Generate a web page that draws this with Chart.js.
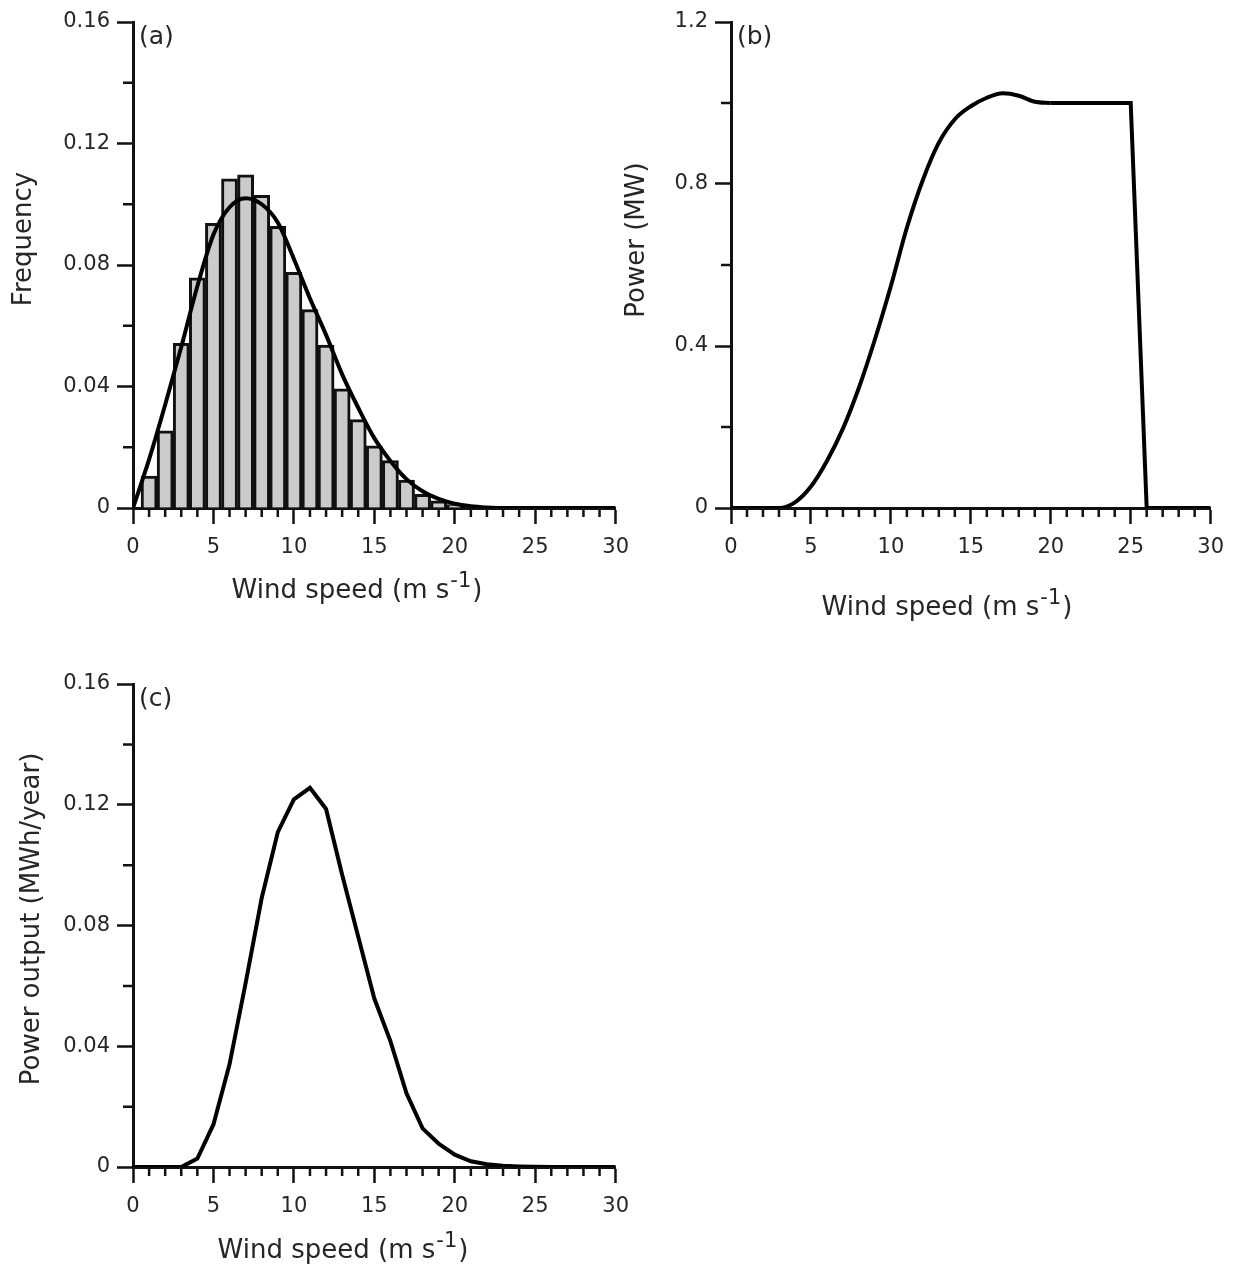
<!DOCTYPE html>
<html lang="en">
<head>
  <meta charset="UTF-8">
  <title>Wind speed, power curve and power output</title>
  <script src="https://cdn.jsdelivr.net/npm/chart.js"></script>
  <style>
    body { margin: 0; background: #fff; }
    .panel { position: absolute; }
  </style>
</head>
<body>
  <div class="panel" style="left:0;top:0"><canvas id="chartA" width="640" height="640"></canvas></div>
  <div class="panel" style="left:600px;top:0"><canvas id="chartB" width="635" height="640"></canvas></div>
  <div class="panel" style="left:0;top:660px"><canvas id="chartC" width="640" height="610"></canvas></div>

  <script>
    // x positions shared by all panels (m/s)
    const windSpeed = [0,1,2,3,4,5,6,7,8,9,10,11,12,13,14,15,16,17,18,19,20,21,22,23,24,25,26,27,28,29,30];
    const xTickLabels = ['0','5','10','15','20','25','30'];

    // (a) histogram of observed wind speed + fitted distribution
    const binCenters = [1,2,3,4,5,6,7,8,9,10,11,12,13,14,15,16,17,18,19,20,21,22];
    const binFreq = [0.0105,0.0254,0.0542,0.0758,0.0937,0.1084,0.1097,0.1029,0.0927,0.0776,0.0653,0.0536,
                     0.0392,0.0291,0.0205,0.0156,0.0092,0.0045,0.0024,0.0011,0.0005,0.0002];
    const fittedFreq = [0,0.016,0.034,0.053,0.073,0.090,0.099,0.102,0.100,0.094,0.082,0.069,0.057,0.044,0.033,
                        0.023,0.0155,0.0095,0.0055,0.003,0.0014,0.0006,0.0002,0,0,0,0,0,0,0,0];
    const yTicksA = ['0','0.04','0.08','0.12','0.16'];

    // (b) turbine power curve
    const powerMW = [0,0,0,0,0.014,0.053,0.116,0.196,0.297,0.416,0.548,0.692,0.81,0.902,0.96,0.992,1.013,1.024,
                     1.018,1.003,1.0,1.0,1.0,1.0,1.0,1.0,0,0,0,0,0];
    const yTicksB = ['0','0.4','0.8','1.2'];

    // (c) power output
    const powerOut = [0,0,0,0,0.0028,0.0141,0.034,0.0609,0.0891,0.1109,0.1218,0.1256,0.1186,0.0968,0.0763,
                      0.0558,0.0417,0.0244,0.0128,0.0077,0.0041,0.0019,0.0009,0.0004,0.0002,0.0001,0,0,0,0,0];
    const yTicksC = ['0','0.04','0.08','0.12','0.16'];

    const INK = '#111';
    const TEXT = '#262626';
    const FONT = "'DejaVu Sans', sans-serif";
    Chart.defaults.font.family = FONT;
    Chart.defaults.color = TEXT;

    // minor ticks, panel letter and axis titles
    const decor = {
      id: 'decor',
      afterDraw(chart, args, o) {
        const ctx = chart.ctx, area = chart.chartArea;
        const xs = chart.scales.x, ys = chart.scales.y;
        ctx.save();
        ctx.strokeStyle = INK;
        ctx.lineWidth = 2.5;
        ctx.beginPath();
        o.xMinor.forEach(v => {
          const px = xs.getPixelForValue(v);
          ctx.moveTo(px, area.bottom); ctx.lineTo(px, area.bottom + 9);
        });
        o.yMinor.forEach(v => {
          const py = ys.getPixelForValue(v);
          ctx.moveTo(area.left, py); ctx.lineTo(area.left - 10, py);
        });
        ctx.stroke();

        ctx.fillStyle = TEXT;
        // panel letter
        ctx.font = '25px ' + FONT;
        ctx.textAlign = 'left';
        ctx.textBaseline = 'middle';
        ctx.fillText(o.letter, area.left + 6, area.top + 15);

        // x title with superscript
        const main = 'Wind speed (m s', sup = '-1', end = ')';
        ctx.textBaseline = 'alphabetic';
        ctx.font = '26px ' + FONT;
        const w1 = ctx.measureText(main).width, w3 = ctx.measureText(end).width;
        ctx.font = '21px ' + FONT;
        const w2 = ctx.measureText(sup).width;
        let x0 = o.xTitle[0] - (w1 + w2 + w3) / 2;
        const base = o.xTitle[1];
        ctx.font = '26px ' + FONT;
        ctx.fillText(main, x0, base);
        ctx.font = '21px ' + FONT;
        ctx.fillText(sup, x0 + w1 + 1, base - 11);
        ctx.font = '26px ' + FONT;
        ctx.fillText(end, x0 + w1 + w2 + 2, base);

        // y title
        ctx.translate(o.yTitle[1], o.yTitle[2]);
        ctx.rotate(-Math.PI / 2);
        ctx.textAlign = 'center';
        ctx.textBaseline = 'middle';
        ctx.fillText(o.yTitle[0], 0, 0);
        ctx.restore();
      }
    };

    const xMinor = windSpeed.filter(v => v % 5 !== 0);

    function axes(yLabels, yWidth, xHeight) {
      const yVals = yLabels.map(Number);
      return {
        x: {
          type: 'linear', min: 0, max: 30, offset: false,
          afterFit: s => { s.height = xHeight; },
          afterBuildTicks: s => { s.ticks = xTickLabels.map(t => ({ value: Number(t) })); },
          ticks: { font: { size: 21 }, padding: 11, maxRotation: 0, autoSkip: false,
                   callback: v => xTickLabels.find(t => Number(t) === v) },
          grid: { offset: false, drawOnChartArea: false, drawTicks: true, tickLength: 16, tickWidth: 2.5, tickColor: INK },
          border: { display: true, color: INK, width: 3 }
        },
        y: {
          type: 'linear', min: 0, max: yVals[yVals.length - 1],
          afterFit: s => { s.width = yWidth; },
          afterBuildTicks: s => { s.ticks = yVals.map(v => ({ value: v })); },
          ticks: { font: { size: 21 }, padding: 7, autoSkip: false,
                   callback: v => yLabels[yVals.indexOf(v)] },
          grid: { offset: false, drawOnChartArea: false, drawTicks: true, tickLength: 16, tickWidth: 2.5, tickColor: INK },
          border: { display: true, color: INK, width: 3 }
        }
      };
    }

    const baseOpts = {
      responsive: false,
      devicePixelRatio: 1,
      animation: false,
      events: [],
      plugins: { legend: { display: false }, tooltip: { enabled: false } }
    };

    const pts = (xs, ys) => xs.map((x, i) => ({ x: x, y: ys[i] }));

    // (a)
    new Chart(document.getElementById('chartA'), {
      type: 'bar',
      data: {
        datasets: [
          { type: 'line', data: pts(windSpeed, fittedFreq), borderColor: '#000', borderWidth: 4,
            pointRadius: 0, cubicInterpolationMode: 'monotone', order: 1 },
          { type: 'bar', data: pts(binCenters, binFreq), backgroundColor: '#cbcbcb', borderColor: INK,
            borderWidth: 3, barPercentage: 1, categoryPercentage: 1, order: 2 }
        ]
      },
      options: Object.assign({}, baseOpts, {
        layout: { padding: { top: 22, right: 23, left: 0, bottom: 0 } },
        scales: axes(yTicksA, 133, 132),
        plugins: Object.assign({}, baseOpts.plugins, {
          decor: { letter: '(a)', xMinor: xMinor, yMinor: [0.02, 0.06, 0.10, 0.14],
                   xTitle: [356, 598], yTitle: ['Frequency', 24, 239] }
        })
      }),
      plugins: [decor]
    });

    // (b)
    new Chart(document.getElementById('chartB'), {
      type: 'line',
      data: {
        datasets: [
          { data: pts(windSpeed.slice(0, 21), powerMW.slice(0, 21)), borderColor: '#000', borderWidth: 4,
            pointRadius: 0, cubicInterpolationMode: 'monotone' },
          { data: pts(windSpeed.slice(20), powerMW.slice(20)), borderColor: '#000', borderWidth: 4,
            pointRadius: 0, tension: 0 }
        ]
      },
      options: Object.assign({}, baseOpts, {
        layout: { padding: { top: 22, right: 22, left: 0, bottom: 0 } },
        scales: axes(yTicksB, 131, 132),
        plugins: Object.assign({}, baseOpts.plugins, {
          decor: { letter: '(b)', xMinor: xMinor, yMinor: [0.2, 0.6, 1.0],
                   xTitle: [346, 615], yTitle: ['Power (MW)', 37, 240] }
        })
      }),
      plugins: [decor]
    });

    // (c)
    new Chart(document.getElementById('chartC'), {
      type: 'line',
      data: {
        datasets: [
          { data: pts(windSpeed, powerOut), borderColor: '#000', borderWidth: 4, pointRadius: 0, tension: 0 }
        ]
      },
      options: Object.assign({}, baseOpts, {
        layout: { padding: { top: 24, right: 23, left: 0, bottom: 0 } },
        scales: axes(yTicksC, 133, 103),
        plugins: Object.assign({}, baseOpts.plugins, {
          decor: { letter: '(c)', xMinor: xMinor, yMinor: [0.02, 0.06, 0.10, 0.14],
                   xTitle: [342, 598], yTitle: ['Power output (MWh/year)', 32, 259] }
        })
      }),
      plugins: [decor]
    });
  </script>
</body>
</html>
